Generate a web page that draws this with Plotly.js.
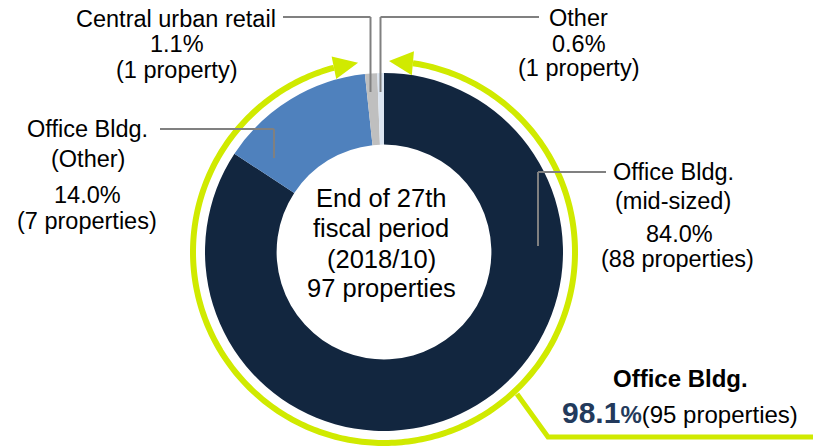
<!DOCTYPE html>
<html>
<head>
<meta charset="utf-8">
<script src="https://cdn.plot.ly/plotly-3.0.1.min.js"></script>
<style>html,body{margin:0;padding:0;background:#fff;}#chart{width:813px;height:447px;}</style>
</head>
<body>
<div id="chart"></div>
<script>
// ---- data ----
const categories = ['Office Bldg. (mid-sized)', 'Office Bldg. (Other)', 'Central urban retail', 'Other'];
const shares = [84.0, 14.0, 1.1, 0.6];
const propertyCounts = [88, 7, 1, 1];
const periodLabel = ['End of 27th', 'fiscal period', '(2018/10)'];
const officeTotalShare = 98.1;
const officeTotalCount = 95;

// ---- styles ----
const sliceColors = ['#12263f', '#4f81bd', '#bfbfbf', '#dbe5f1'];
const ringColor = '#d0ea00';
const leaderColor = '#808080';
const navyText = '#233a5c';
const FONT = 'Liberation Sans, Arial, sans-serif';

const W = 813, H = 447;
const px = x => x / W;
const py = y => 1 - y / H;
const cx = 384, cy = 252, R = 179;
const ringR = 191;

function propText(n) { return '(' + n + (n === 1 ? ' property)' : ' properties)'); }
function pct(v) { return v.toFixed(1) + '%'; }

const totalCount = propertyCounts.reduce((a, b) => a + b, 0);

const pie = {
  type: 'pie',
  labels: categories,
  values: shares,
  sort: false,
  direction: 'clockwise',
  rotation: 0,
  hole: 0.6,
  textinfo: 'none',
  hoverinfo: 'label+percent',
  marker: { colors: sliceColors, line: { width: 0 } },
  domain: { x: [px(cx - R), px(cx + R)], y: [py(cy + R), py(cy - R)] },
  showlegend: false
};

// ---- decorative ring with arrowheads ----
function circPt(deg, r) {
  const a = deg * Math.PI / 180;
  return [cx + r * Math.sin(a), cy - r * Math.cos(a)];
}
function toPaper(p) { return px(p[0]).toFixed(5) + ',' + py(p[1]).toFixed(5); }

const ringStart = 8.7, ringEnd = 344.8;
let ringPath = '';
for (let d = ringStart; d <= ringEnd + 0.001; d += 1) {
  ringPath += (ringPath ? ' L' : 'M') + toPaper(circPt(d, ringR));
}
ringPath += ' L' + toPaper(circPt(ringEnd, ringR));

function arrowHead(backDeg, tipDeg, half) {
  const B = circPt(backDeg, ringR), T = circPt(tipDeg, ringR);
  let dx = T[0] - B[0], dy = T[1] - B[1];
  const L = Math.hypot(dx, dy); dx /= L; dy /= L;
  const nx = -dy, ny = dx;
  const p1 = [B[0] + nx * half, B[1] + ny * half];
  const p2 = [B[0] - nx * half, B[1] - ny * half];
  return 'M' + toPaper(p1) + ' L' + toPaper(T) + ' L' + toPaper(p2) + ' Z';
}

const shapes = [
  { type: 'path', xref: 'paper', yref: 'paper', path: ringPath, line: { color: ringColor, width: 6 } },
  { type: 'path', xref: 'paper', yref: 'paper', path: arrowHead(-15.2, -7.8, 11.5), fillcolor: ringColor, line: { width: 0 } },
  { type: 'path', xref: 'paper', yref: 'paper', path: arrowHead(8.7, 1.5, 12), fillcolor: ringColor, line: { width: 0 } },
  // bottom-right bracket line
  { type: 'path', xref: 'paper', yref: 'paper',
    path: 'M' + toPaper([517, 394]) + ' L' + toPaper([548, 437]) + ' L' + toPaper([813, 437]),
    line: { color: ringColor, width: 5 } }
];

function seg(x0, y0, x1, y1) {
  return { type: 'line', xref: 'paper', yref: 'paper', x0: px(x0), y0: py(y0), x1: px(x1), y1: py(y1),
           line: { color: leaderColor, width: 2 } };
}
shapes.push(seg(283, 17, 370.5, 17), seg(370.5, 17, 370.5, 92));
shapes.push(seg(380.5, 92, 380.5, 17), seg(380.5, 17, 539, 17));
shapes.push(seg(160, 129, 274, 129), seg(274, 129, 274, 158));
shapes.push(seg(606, 172, 538, 172), seg(538, 172, 538, 246));

// ---- annotations ----
function ann(text, x, y, size, opts) {
  return Object.assign({
    text: text, x: px(x), y: py(y), xref: 'paper', yref: 'paper',
    xanchor: 'center', yanchor: 'middle', showarrow: false,
    font: { family: FONT, size: size, color: '#000000' }
  }, opts || {});
}
const LS = 23.5;
const annotations = [
  ann(categories[2], 176, 19.5, LS),
  ann(pct(shares[2]), 177, 44.5, LS),
  ann(propText(propertyCounts[2]), 176, 69.5, LS),

  ann(categories[3], 578, 18.5, LS),
  ann(pct(shares[3]), 579, 43.5, LS),
  ann(propText(propertyCounts[3]), 578, 68, LS),

  ann('Office Bldg.', 87, 128.5, LS),
  ann('(Other)', 87.5, 158.5, LS),
  ann(pct(shares[1]), 87, 194.5, LS),
  ann(propText(propertyCounts[1]), 87, 220.5, LS),

  ann('Office Bldg.', 673, 171.5, LS),
  ann('(mid-sized)', 673, 201.5, LS),
  ann(pct(shares[0]), 679, 233.5, LS),
  ann(propText(propertyCounts[0]), 677, 258.5, LS),

  ann(periodLabel[0], 381, 198, 25.5),
  ann(periodLabel[1], 381, 228, 25.5),
  ann(periodLabel[2], 381, 259, 25.5),
  ann(totalCount + ' properties', 381, 288, 25.5),

  ann('<b>Office Bldg.</b>', 680.5, 378.5, 24),
  ann('<b><span style="font-size:30px;color:' + navyText + '">' + officeTotalShare.toFixed(1) +
      '</span><span style="color:' + navyText + '">%</span></b>' + propText(officeTotalCount), 680, 412, 24)
];

const layout = {
  width: W, height: H,
  margin: { l: 0, r: 0, t: 0, b: 0, pad: 0 },
  paper_bgcolor: '#ffffff', plot_bgcolor: '#ffffff',
  showlegend: false,
  shapes: shapes,
  annotations: annotations
};

Plotly.newPlot('chart', [pie], layout, { displayModeBar: false, staticPlot: true });
</script>
</body>
</html>
